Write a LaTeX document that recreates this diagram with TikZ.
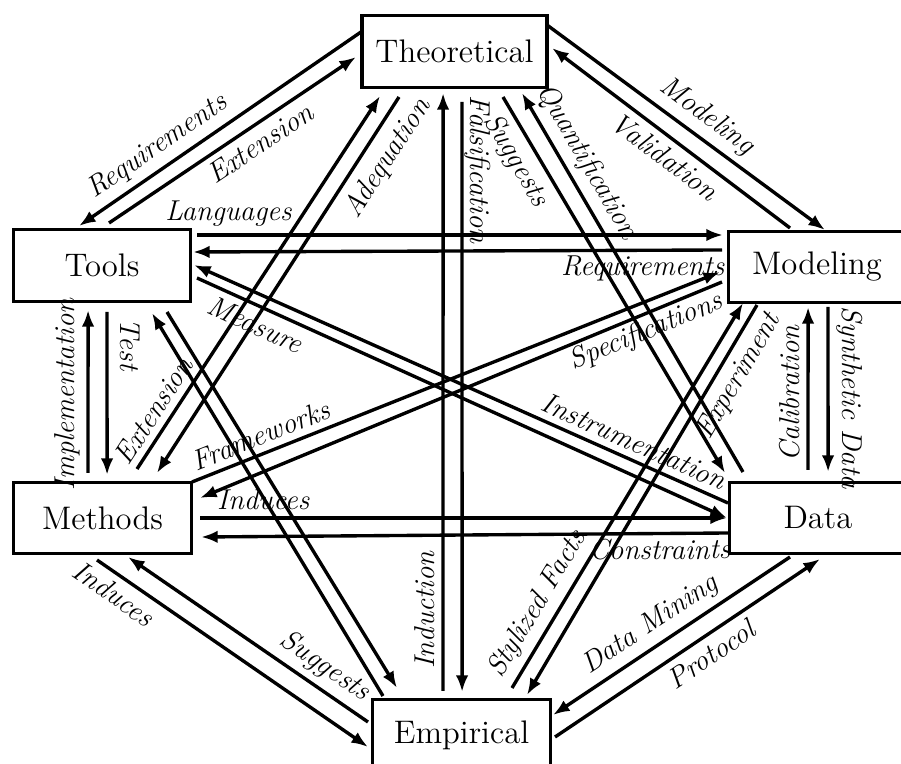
\documentclass[tikz,border=0pt]{standalone}
\usetikzlibrary{arrows.meta,calc}
\tikzset{
  box/.style={draw, line width=1.3pt, minimum width=68.5pt, minimum height=27.6pt, inner xsep=5.2pt, font=\fontsize{12.6}{15}\selectfont},
  arr/.style={line width=1.3pt, -{Latex[length=6.4pt,width=4.8pt]}},
  lab/.style={sloped, inner sep=2.5pt, font=\fontsize{11.1}{13}\selectfont\itshape},
}
\begin{document}
\begin{tikzpicture}[x=0.386pt,y=-0.386pt]
\clip (0,0) rectangle (901,764);
\node[box] (T) at (454.5,51.5) {Theoretical};
\node[box] (Tools) at (102,265.5) {Tools};
\node[box] (Methods) at (102.5,518) {Methods};
\node[box] (Mod) at (817,267) {Modeling};
\node[box] (Data) at (818,518) {Data};
\node[box] (Emp) at (461.5,735.5) {Empirical};

\draw[arr] ($(T)+(-93.5,-19.5)$) -- node[lab,pos=.68,above]{Requirements} ($(Tools)+(-23,-39.5)$);
\draw[arr] ($(Tools)+(7,-42.5)$) -- node[lab,pos=.57,below]{Extension} ($(T)+(-98.5,5.5)$);
\draw[arr] ($(T)+(92.5,-26.5)$) -- node[lab,pos=.53,above]{Modeling} ($(Mod)+(8,-37)$);
\draw[arr] ($(Mod)+(-27,-39)$) -- node[lab,pos=.48,below]{Validation} ($(T)+(97.5,-3.5)$);
\draw[arr] ($(T)+(-55.5,45.5)$) -- node[lab,pos=.13,below,inner sep=3.5pt]{Adequation} ($(Methods)+(54.5,-45)$);
\draw[arr] ($(Methods)+(34.5,-49)$) -- node[lab,pos=.13,above]{Extension} ($(T)+(-74.5,44.5)$);
\draw[arr] ($(Emp)+(-18.5,-44.5)$) -- node[lab,pos=.135,above]{Induction} ($(T)+(-11.4,41.5)$);
\draw[arr] ($(T)+(7.5,50.5)$) -- node[lab,pos=.115,above,inner sep=0.3pt]{Falsification} ($(Emp)+(0.6,-43.5)$);
\draw[arr] ($(T)+(48.5,45.5)$) -- node[lab,pos=.14,below]{Suggests} ($(Data)+(-93,-45)$);
\draw[arr] ($(Data)+(-75,-46)$) -- node[lab,pos=.79,above]{Quantification} ($(T)+(67.5,41.5)$);
\draw[arr] ($(Tools)+(95,-30.5)$) -- node[lab,pos=.06,above]{Languages} ($(Mod)+(-94,-32)$);
\draw[arr] ($(Mod)+(-95,-17)$) -- node[lab,pos=.15,below,inner sep=1.5pt]{Requirements} ($(Tools)+(91,-13.5)$);
\draw[arr] ($(Tools)+(95,12.5)$) -- node[lab,pos=.124,below]{Measure} ($(Data)+(-91,0)$);
\draw[arr] ($(Data)+(-90,-15)$) -- node[lab,pos=.19,above]{Instrumentation} ($(Tools)+(92,-0.5)$);
\draw[arr] ($(Methods)+(-14.5,-45)$) -- node[lab,pos=.48,above]{Implementation} ($(Tools)+(-13.9,44.5)$);
\draw[arr] ($(Tools)+(5,46.5)$) -- node[lab,pos=.2,above,inner sep=4.5pt]{Test} ($(Methods)+(4.6,-43)$);
\draw[arr] ($(Methods)+(89.5,-36)$) -- node[lab,pos=.143,above]{Frameworks} ($(Mod)+(-97,5)$);
\draw[arr] ($(Mod)+(-95,15)$) -- node[lab,pos=.158,below,inner sep=1pt]{Specifications} ($(Methods)+(97.5,-20)$);
\draw[arr] ($(Data)+(-10,-48)$) -- node[lab,pos=.47,above]{Calibration} ($(Mod)+(-8.9,40)$);
\draw[arr] ($(Mod)+(11,40)$) -- node[lab,pos=.55,above]{Synthetic Data} ($(Data)+(10.1,-46)$);
\draw[arr] ($(Mod)+(-60,38)$) -- node[lab,pos=.156,below]{Experiment} ($(Emp)+(65.5,-40.5)$);
\draw[arr] ($(Emp)+(50.5,-47.5)$) -- node[lab,pos=.19,above]{Stylized Facts} ($(Mod)+(-74,36)$);
\draw[arr] ($(Methods)+(97.5,0)$) -- node[lab,pos=.12,above]{Induces} ($(Data)+(-91,0)$);
\draw[arr] ($(Data)+(-90,15)$) -- node[lab,pos=.13,below,inner sep=1.5pt]{Constraints} ($(Methods)+(98.5,19)$);
\draw[arr] ($(Methods)+(-5.5,42)$) -- node[lab,pos=.10,below]{Induces} ($(Emp)+(-93.5,11.5)$);
\draw[arr] ($(Emp)+(-93.5,-13.5)$) -- node[lab,pos=.23,above]{Suggests} ($(Methods)+(25.5,39)$);
\draw[arr] ($(Data)+(-28,39)$) -- node[lab,pos=.54,above]{Data Mining} ($(Emp)+(91.5,-20.5)$);
\draw[arr] ($(Emp)+(93.5,1.5)$) -- node[lab,pos=.55,below]{Protocol} ($(Data)+(2,41)$);
\draw[arr] ($(Tools)+(65,46.5)$) -- ($(Emp)+(-64.5,-47.5)$);
\draw[arr] ($(Emp)+(-78.5,-39.5)$) -- ($(Tools)+(50,47.5)$);
\end{tikzpicture}
\end{document}
